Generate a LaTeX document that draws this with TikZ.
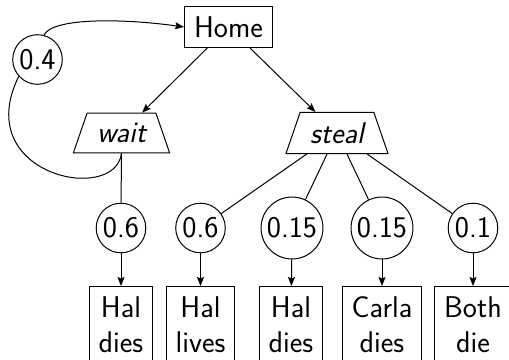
\documentclass[tikz,border=0pt]{standalone}
\usetikzlibrary{shapes.geometric,arrows.meta}
\begin{document}
\begin{tikzpicture}[x=1pt,y=-1pt,line width=1pt,
  font=\sffamily\fontsize{30}{35}\selectfont,
  box/.style={draw,rectangle,inner xsep=9.5pt,inner ysep=10pt,align=center},
  act/.style={draw,trapezium,trapezium left angle=71,trapezium right angle=71,inner xsep=10pt,inner ysep=10pt,font=\sffamily\itshape\fontsize{30}{35}\selectfont},
  prob/.style={draw,circle,inner sep=3pt},
  arr/.style={-{Stealth[length=9pt,width=7pt,inset=1.5pt]}}]
\useasboundingbox (0,0) rectangle (509,359);
\node[box] (home) at (228.5,27) {Home};
\node[act] (wait) at (121.5,133) {wait};
\node[act] (steal) at (337,133) {steal};
\node[prob] (p04) at (37.5,59.5) {0.4};
\node[prob] (p1) at (121,228) {0.6};
\node[prob] (p2) at (200.5,228) {0.6};
\node[prob] (p3) at (292,228) {0.15};
\node[prob] (p4) at (382,228) {0.15};
\node[prob] (p5) at (473,228) {0.1};
\node[box,anchor=north] (o1) at (121,286) {Hal\\dies};
\node[box,anchor=north] (o2) at (200.5,286) {Hal\\lives};
\node[box,anchor=north] (o3) at (291,286) {Hal\\dies};
\node[box,anchor=north] (o4) at (382,286) {Carla\\dies};
\node[box,anchor=north] (o5) at (473,286) {Both\\die};
\draw[arr] (home) -- (wait);
\draw[arr] (home) -- (steal);
\draw (wait) -- (p1);
\draw (steal) -- (p2);
\draw (steal) -- (p3);
\draw (steal) -- (p4);
\draw (steal) -- (p5);
\draw[arr] (p1) -- (o1);
\draw[arr] (p2) -- (o2);
\draw[arr] (p3) -- (o3);
\draw[arr] (p4) -- (o4);
\draw[arr] (p5) -- (o5);
\draw (wait.south) .. controls (115,205) and (-30,175) .. (p04.222);
\draw[arr] (p04.75) .. controls (52,18) and (120,18) .. (home.west);
\end{tikzpicture}
\end{document}
